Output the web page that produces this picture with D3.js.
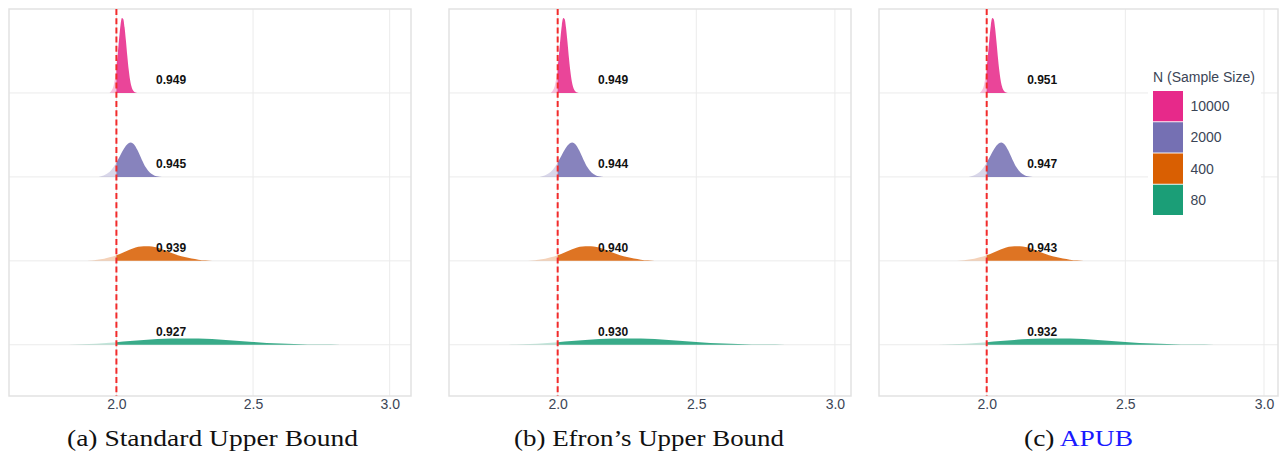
<!DOCTYPE html>
<html>
<head>
<meta charset="utf-8">
<script src="https://cdn.jsdelivr.net/npm/d3@7"></script>
<style>
  html, body { margin: 0; padding: 0; background: #ffffff; }
  svg { display: block; }
</style>
</head>
<body>
<svg id="chart" width="1279" height="454"></svg>
<script>
// ---------------- data ----------------
const categories = ["80", "400", "2000", "10000"];
const legendOrder = ["10000", "2000", "400", "80"];
const xTicks = [2.0, 2.5, 3.0];
const trueValue = 2.0;
const panelCaptions = ["(a) Standard Upper Bound", "(b) Efron\u2019s Upper Bound", "(c) "];
const panelCaptionTail = ["", "", "APUB"];

// coverage per category (80, 400, 2000, 10000)
const coverageA = [0.927, 0.939, 0.945, 0.949];
const coverageB = [0.930, 0.940, 0.944, 0.949];
const coverageC = [0.932, 0.943, 0.947, 0.951];

// density curves (x value, height in row units)
const xs10000 = [1.975, 1.980, 1.985, 1.990, 1.995, 2.000, 2.005, 2.010, 2.015, 2.020, 2.025, 2.030, 2.035, 2.040, 2.045, 2.050, 2.055, 2.060, 2.065, 2.070, 2.076];
const hs10000 = [0.000, 0.018, 0.043, 0.090, 0.178, 0.307, 0.473, 0.653, 0.807, 0.892, 0.882, 0.780, 0.618, 0.438, 0.278, 0.158, 0.080, 0.036, 0.014, 0.005, 0.000];

const xs2000 = [1.935, 1.953, 1.968, 1.983, 1.998, 2.013, 2.028, 2.043, 2.053, 2.063, 2.078, 2.093, 2.108, 2.123, 2.138, 2.158, 2.175];
const hs2000 = [0.000, 0.018, 0.043, 0.089, 0.159, 0.249, 0.337, 0.397, 0.410, 0.393, 0.313, 0.205, 0.111, 0.049, 0.018, 0.003, 0.000];

const xs400 = [1.880, 1.905, 1.930, 1.955, 1.975, 2.000, 2.025, 2.050, 2.070, 2.090, 2.110, 2.130, 2.150, 2.175, 2.200, 2.225, 2.250, 2.275, 2.300, 2.325, 2.350, 2.375];
const hs400 = [0.000, 0.004, 0.012, 0.025, 0.042, 0.068, 0.100, 0.134, 0.160, 0.172, 0.175, 0.172, 0.158, 0.128, 0.095, 0.066, 0.045, 0.027, 0.014, 0.006, 0.002, 0.000];

const xs80 = [1.800, 1.850, 1.900, 1.950, 2.000, 2.050, 2.100, 2.150, 2.200, 2.250, 2.300, 2.350, 2.400, 2.450, 2.500, 2.550, 2.600, 2.650, 2.700, 2.750, 2.820];
const hs80 = [0.000, 0.003, 0.010, 0.019, 0.031, 0.045, 0.058, 0.068, 0.074, 0.076, 0.074, 0.068, 0.058, 0.045, 0.033, 0.022, 0.014, 0.008, 0.004, 0.002, 0.000];

const labelXValue = 2.2;     // where the coverage labels are centred
const labelLift = 0.15;      // label height above the ridge baseline (row units)

// ---------------- layout / style ----------------
const W = 1279, H = 454;
const plotTop = 9, plotBottom = 396;
const panels = [
  { left: 9,   right: 411,  domain: [1.607, 3.078], cov: coverageA, capX: 212.5, capW: 291 },
  { left: 449, right: 851,  domain: [1.608, 3.058], cov: coverageB, capX: 649,   capW: 270 },
  { left: 879, right: 1278, domain: [1.6116, 3.0505], cov: coverageC, capX: 1078.5, capW: 109 }
];
const palette = { "10000": "#E7298A", "2000": "#7570B3", "400": "#D95F02", "80": "#1B9E77" };
const curves = {
  "10000": { xs: xs10000, hs: hs10000 },
  "2000": { xs: xs2000, hs: hs2000 },
  "400": { xs: xs400, hs: hs400 },
  "80": { xs: xs80, hs: hs80 }
};
const textGrey = "#3b4556";
const gridCol = "#ebebeb";

const svg = d3.select("#chart");
svg.append("rect").attr("width", W).attr("height", H).attr("fill", "#fff");
const defs = svg.append("defs");

const y = d3.scaleLinear().domain([0.39, 5.0]).range([plotBottom, plotTop]);
const yPos = d3.scalePoint().domain(categories).range([1, 4]);

panels.forEach((p, pi) => {
  const x = d3.scaleLinear().domain(p.domain).range([p.left, p.right]);
  const g = svg.append("g");

  const clipId = "clip" + pi;
  defs.append("clipPath").attr("id", clipId)
    .append("rect").attr("x", p.left).attr("y", plotTop)
    .attr("width", p.right - p.left).attr("height", plotBottom - plotTop);
  const leftId = "left" + pi, rightId = "right" + pi;
  defs.append("clipPath").attr("id", leftId)
    .append("rect").attr("x", p.left).attr("y", plotTop)
    .attr("width", x(trueValue) - p.left).attr("height", plotBottom - plotTop);
  defs.append("clipPath").attr("id", rightId)
    .append("rect").attr("x", x(trueValue)).attr("y", plotTop)
    .attr("width", p.right - x(trueValue)).attr("height", plotBottom - plotTop);

  // grid
  const grid = g.append("g").attr("clip-path", `url(#${clipId})`);
  grid.selectAll("line.v").data(xTicks).enter().append("line")
    .attr("x1", d => x(d)).attr("x2", d => x(d))
    .attr("y1", plotTop).attr("y2", plotBottom)
    .attr("stroke", gridCol).attr("stroke-width", 1);
  grid.selectAll("line.h").data(categories).enter().append("line")
    .attr("x1", p.left).attr("x2", p.right)
    .attr("y1", d => y(yPos(d))).attr("y2", d => y(yPos(d)))
    .attr("stroke", gridCol).attr("stroke-width", 1);

  // panel border
  g.append("rect").attr("x", p.left).attr("y", plotTop)
    .attr("width", p.right - p.left).attr("height", plotBottom - plotTop)
    .attr("fill", "none").attr("stroke", "#e2e2e2").attr("stroke-width", 1.5);

  // ridges
  const ridgeG = g.append("g").attr("clip-path", `url(#${clipId})`);
  [...categories].reverse().forEach(cat => {
    const c = curves[cat];
    const pts = c.xs.map((v, i) => [v, c.hs[i]]);
    const base = yPos(cat);
    const area = d3.area()
      .x(d => x(d[0]))
      .y0(y(base))
      .y1(d => y(base + d[1]))
      .curve(d3.curveMonotoneX);
    ridgeG.append("path").attr("d", area(pts))
      .attr("fill", palette[cat]).attr("fill-opacity", 0.28)
      .attr("clip-path", `url(#${leftId})`);
    ridgeG.append("path").attr("d", area(pts))
      .attr("fill", palette[cat]).attr("fill-opacity", 0.87)
      .attr("clip-path", `url(#${rightId})`);
  });

  // true value line
  g.append("line")
    .attr("x1", x(trueValue)).attr("x2", x(trueValue))
    .attr("y1", plotTop).attr("y2", plotBottom)
    .attr("stroke", "#f22b2b").attr("stroke-width", 2)
    .attr("stroke-dasharray", "6,3.2");

  // coverage labels
  g.selectAll("text.cov").data(categories).enter().append("text")
    .attr("x", x(labelXValue))
    .attr("y", (d) => y(yPos(d) + labelLift))
    .attr("text-anchor", "middle").attr("dominant-baseline", "central")
    .attr("font-family", "Liberation Sans, Arial, sans-serif")
    .attr("font-weight", "bold").attr("font-size", 12).attr("fill", "#111")
    .text((d, i) => d3.format(".3f")(p.cov[i]));

  // x axis tick labels
  const axis = d3.axisBottom(x).tickValues(xTicks).tickFormat(d3.format(".1f")).tickSize(0).tickPadding(0);
  const ax = g.append("g").attr("transform", `translate(0,${plotBottom + 3.5})`).call(axis);
  ax.select(".domain").remove();
  ax.selectAll("text").attr("font-family", "Liberation Sans, Arial, sans-serif")
    .attr("font-size", 14).attr("fill", textGrey).attr("dy", "0.71em");

  // caption
  const cap = svg.append("text")
    .attr("x", p.capX).attr("y", 446)
    .attr("text-anchor", "middle")
    .attr("textLength", p.capW).attr("lengthAdjust", "spacingAndGlyphs")
    .attr("font-family", "Liberation Serif, Times New Roman, serif")
    .attr("font-size", 24).attr("fill", "#111");
  cap.append("tspan").text(panelCaptions[pi]);
  if (panelCaptionTail[pi]) cap.append("tspan").attr("fill", "#1a1aff").text(panelCaptionTail[pi]);
});

// legend (inside panel c)
const lg = svg.append("g");
lg.append("rect").attr("x", 1148).attr("y", 64).attr("width", 113).attr("height", 156).attr("fill", "#fff");
lg.append("text").attr("x", 1153).attr("y", 77).attr("dominant-baseline", "central")
  .attr("font-family", "Liberation Sans, Arial, sans-serif").attr("font-size", 14)
  .attr("fill", textGrey).text("N (Sample Size)");
const keyY = d3.scaleBand().domain(legendOrder).range([91, 215]).paddingInner(0.03);
lg.selectAll("rect.key").data(legendOrder).enter().append("rect")
  .attr("x", 1153).attr("y", d => keyY(d)).attr("width", 30).attr("height", keyY.bandwidth())
  .attr("fill", d => palette[d]);
lg.selectAll("text.key").data(legendOrder).enter().append("text")
  .attr("x", 1190.5).attr("y", d => keyY(d) + keyY.bandwidth() / 2)
  .attr("dominant-baseline", "central")
  .attr("font-family", "Liberation Sans, Arial, sans-serif").attr("font-size", 14)
  .attr("fill", textGrey).text(d => d);
</script>
</body>
</html>
